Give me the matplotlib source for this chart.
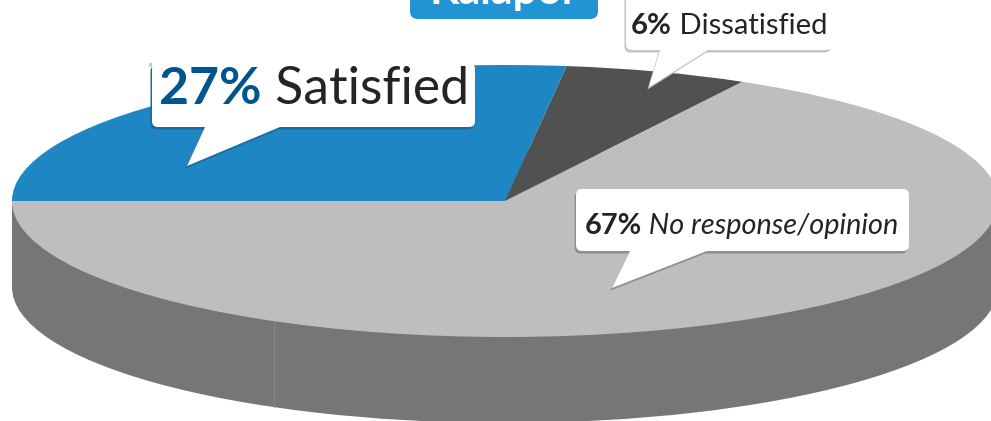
import matplotlib
matplotlib.use("Agg")
import matplotlib.pyplot as plt
from matplotlib.path import Path
from matplotlib.patches import PathPatch, Rectangle, FancyBboxPatch

# data
categories = ["Satisfied", "Dissatisfied", "No response/opinion"]
values = [27, 6, 67]
pct_labels = ["27%", "6%", "67%"]
colors = ["#1e87c3", "#505251", "#bfbdbe"]
side_color = "#777674"
FONT = "Lato"

W, H = 991, 421
CX, CY, RX, RY, DEPTH = 505, 201, 493, 136, 86
fig = plt.figure(figsize=(W / 100, H / 100), dpi=100, facecolor="white")

ax = fig.add_axes([0, 0, 1, 1])
# extruded rim
ax.pie([1], colors=[side_color], radius=1, center=(0, -DEPTH / RY),
       wedgeprops=dict(linewidth=0), frame=False)
ax.add_patch(Rectangle((-1, -DEPTH / RY), 2, DEPTH / RY, fc=side_color, ec="none"))
ax.plot([(274 - CX) / RX] * 2, [(CY - 322) / RY, (CY - 407) / RY], color="#8d8c8a", lw=0.6)
# top face
ax.pie(values, colors=colors, startangle=180, counterclock=False, radius=1,
       wedgeprops=dict(linewidth=0), frame=False)
ax.set_aspect("auto")
ax.set_xlim(-CX / RX, (W - CX) / RX)
ax.set_ylim((CY - H) / RY, CY / RY)
ax.axis("off")

# overlay in pixel coordinates for annotations
ov = fig.add_axes([0, 0, 1, 1], facecolor="none")
ov.set_xlim(0, W)
ov.set_ylim(H, 0)
ov.axis("off")


def callout(l, r, t, b, tail, fc="white", shadow="#9a9a9a", rad=6, dx=-1.5, dy=2.5):
    (tl, tip, tr) = tail
    verts = [(l + rad, t), (r - rad, t), (r, t), (r, t + rad), (r, b - rad), (r, b), (r - rad, b),
             (tr, b), tip, (tl, b), (l + rad, b), (l, b), (l, b - rad), (l, t + rad), (l, t), (l + rad, t),
             (l + rad, t)]
    codes = [Path.MOVETO, Path.LINETO, Path.CURVE3, Path.CURVE3, Path.LINETO, Path.CURVE3, Path.CURVE3,
             Path.LINETO, Path.LINETO, Path.LINETO, Path.LINETO, Path.CURVE3, Path.CURVE3, Path.LINETO,
             Path.CURVE3, Path.CURVE3, Path.CLOSEPOLY]
    sv = [(x + dx, y + dy) for x, y in verts]
    ov.add_patch(PathPatch(Path(sv, codes), fc=shadow, ec="none"))
    ov.add_patch(PathPatch(Path(verts, codes), fc=fc, ec="none"))


def label(x, y, pct, txt, size, pct_color="#262324", style="normal"):
    t = ov.text(x, y, pct, fontsize=size, fontweight="bold", color=pct_color,
                family=FONT, va="baseline", ha="left")
    ov.annotate(" " + txt, xy=(1, 0), xycoords=t, xytext=(0, 0), textcoords="offset points",
                fontsize=size, color="#262324", family=FONT, style=style,
                va="bottom", ha="left", annotation_clip=False)


# header tag, cut by the top edge
ov.add_patch(FancyBboxPatch((416, -30), 176, 43, boxstyle="round,pad=6,rounding_size=8",
                            fc="#2394d3", ec="none", clip_on=True))
ov.text(504, 4, "Kalapor", fontsize=31, fontweight="bold", color="white", family=FONT,
        ha="center", va="baseline")

callout(152, 475, 63, 127, (205, (187, 166), 280), shadow="#1a6a9e")
ov.add_patch(Rectangle((149, 63), 3, 4, fc="#c9c9c9", ec="none"))
label(159, 104, pct_labels[0], categories[0], 37.3, pct_color="#00568c")

callout(626, 832, -20, 50, (660, (649, 87), 708), shadow="#c4c4c4")
label(631, 34, pct_labels[1], categories[1], 21)

callout(576, 909, 189, 251, (630, (612, 288), 707), shadow="#8f8f8f")
label(585, 234, pct_labels[2], categories[2], 20.8, style="italic")

fig.savefig("out.png", dpi=100)
